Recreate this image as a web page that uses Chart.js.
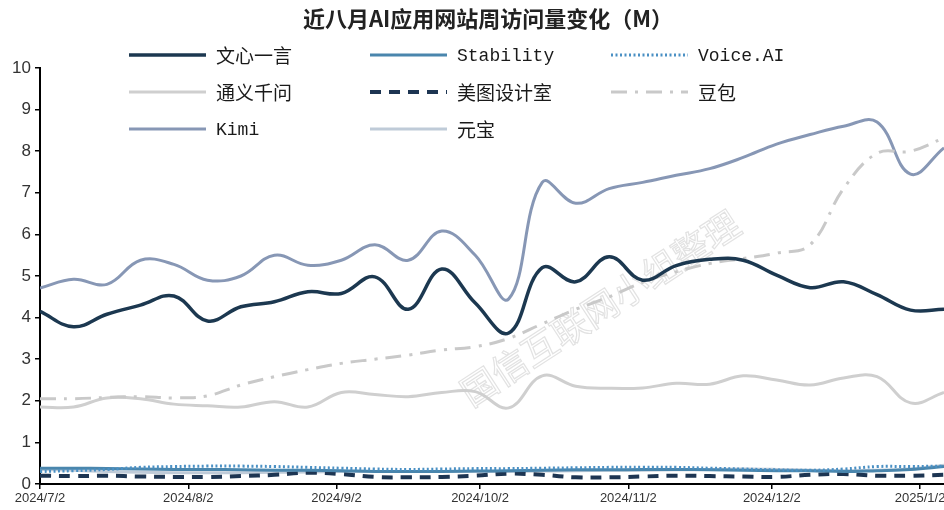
<!DOCTYPE html>
<html>
<head>
<meta charset="utf-8">
<script src="https://cdn.jsdelivr.net/npm/chart.js@4"></script>
<style>
html,body{margin:0;padding:0;background:#fff;}
#wrap{width:944px;height:510px;position:relative;}
</style>
</head>
<body>
<div id="wrap"><canvas id="c" width="944" height="510"></canvas></div>
<script>
// ---- data ----
const chartTitle = '近八月AI应用网站周访问量变化（M）';
const weekDates = ['2024/7/2','2024/7/9','2024/7/16','2024/7/23','2024/7/30','2024/8/6','2024/8/13','2024/8/20','2024/8/27','2024/9/3','2024/9/10','2024/9/17','2024/9/24','2024/10/1','2024/10/8','2024/10/15','2024/10/22','2024/10/29','2024/11/5','2024/11/12','2024/11/19','2024/11/26','2024/12/3','2024/12/10','2024/12/17','2024/12/24','2024/12/31','2025/1/7'];
const tickLabels = ['2024/7/2','2024/8/2','2024/9/2','2024/10/2','2024/11/2','2024/12/2','2025/1/2'];
const seriesNames = ['文心一言','Stability','Voice.AI','通义千问','美图设计室','豆包','Kimi','元宝'];
const wenxin   = [4.15,3.78,4.08,4.30,4.52,3.92,4.26,4.38,4.62,4.58,4.98,4.20,5.17,4.35,3.63,5.20,4.86,5.46,4.90,5.25,5.40,5.38,5.02,4.72,4.86,4.55,4.18,4.20];
const stability= [0.38,0.38,0.37,0.36,0.35,0.35,0.34,0.33,0.33,0.32,0.30,0.30,0.30,0.31,0.32,0.33,0.34,0.34,0.35,0.35,0.34,0.33,0.32,0.32,0.30,0.32,0.35,0.42];
const voiceai  = [0.30,0.32,0.35,0.40,0.42,0.43,0.43,0.42,0.40,0.38,0.36,0.35,0.36,0.37,0.37,0.38,0.39,0.40,0.40,0.40,0.38,0.36,0.34,0.33,0.36,0.42,0.42,0.43];
const tongyi   = [1.85,1.85,2.07,2.05,1.92,1.88,1.85,1.98,1.85,2.20,2.15,2.10,2.20,2.22,1.83,2.60,2.35,2.30,2.31,2.42,2.40,2.60,2.50,2.38,2.55,2.58,1.95,2.20];
const meitu    = [0.20,0.19,0.20,0.18,0.17,0.17,0.19,0.22,0.27,0.24,0.17,0.16,0.17,0.20,0.25,0.22,0.16,0.16,0.18,0.20,0.19,0.18,0.17,0.22,0.24,0.20,0.20,0.22];
const doubao   = [2.05,2.05,2.08,2.10,2.07,2.12,2.38,2.58,2.75,2.90,3.00,3.10,3.22,3.30,3.50,3.85,4.20,4.50,4.85,5.10,5.30,5.42,5.55,5.75,7.10,7.95,8.00,8.32];
const kimi     = [4.71,4.92,4.80,5.38,5.28,4.90,5.00,5.50,5.26,5.38,5.75,5.38,6.08,5.50,4.45,7.25,6.75,7.10,7.25,7.42,7.58,7.85,8.17,8.40,8.60,8.70,7.45,8.08];
const yuanbao  = [0.35,0.33,0.30,0.28,0.27,0.27,0.27,0.28,0.29,0.30,0.30,0.30,0.30,0.30,0.30,0.31,0.32,0.33,0.33,0.34,0.35,0.36,0.35,0.33,0.32,0.33,0.36,0.45];
const watermark = '国信互联网小组整理';

// ---- helpers ----
function dayNum(s){const p=s.split('/').map(Number);return Date.UTC(p[0],p[1]-1,p[2])/86400000;}
const day0 = dayNum(weekDates[0]);
const xs = weekDates.map(d=>dayNum(d)-day0);
const tickPos = tickLabels.map(d=>dayNum(d)-day0);
const pts = arr => arr.map((v,i)=>({x:xs[i],y:v}));

const styles = [
  {data:wenxin,   color:'#1c3850', width:3.5, dash:[]},
  {data:stability,color:'#4a86ad', width:3,   dash:[]},
  {data:voiceai,  color:'#4a90c4', width:3,   dash:[2,2.5]},
  {data:tongyi,   color:'#cfcfcf', width:3,   dash:[]},
  {data:meitu,    color:'#1d3552', width:4,   dash:[11,8]},
  {data:doubao,   color:'#c9c9c9', width:3,   dash:[16,8,3,8]},
  {data:kimi,     color:'#8797b5', width:3,   dash:[]},
  {data:yuanbao,  color:'#bfcbd8', width:3,   dash:[]}
];
const drawOrder = [1,5,4,3,6,2,7,8];

const datasets = styles.map((s,i)=>({
  label: seriesNames[i],
  data: pts(s.data),
  borderColor: s.color,
  backgroundColor: s.color,
  borderWidth: s.width,
  borderDash: s.dash,
  pointRadius: 0,
  tension: 0.4,
  fill: false,
  order: drawOrder[i]
}));

const legendPlugin = {
  id:'customLegend',
  afterDraw(chart){
    const ctx = chart.ctx;
    ctx.save();
    // title
    ctx.fillStyle = '#222';
    ctx.font = 'bold 22px "Noto Sans CJK SC", sans-serif';
    ctx.textAlign = 'center';
    ctx.textBaseline = 'middle';
    ctx.fillText(chartTitle, 488, 19);
    // legend
    const colX = [129, 370, 611];
    const rowY = [55, 92, 129];
    styles.forEach((s,i)=>{
      const col = i % 3, row = Math.floor(i/3);
      const x = colX[col], y = rowY[row];
      ctx.beginPath();
      ctx.setLineDash(s.dash);
      ctx.strokeStyle = s.color;
      ctx.lineWidth = s.width;
      ctx.moveTo(x, y); ctx.lineTo(x+77, y);
      ctx.stroke();
      ctx.setLineDash([]);
      const name = seriesNames[i];
      const isLatin = /^[\x00-\x7f]+$/.test(name);
      ctx.font = isLatin ? '18px "Liberation Mono", monospace' : '19px "Noto Sans CJK SC", sans-serif';
      ctx.fillStyle = '#1a1a1a';
      ctx.textAlign = 'left';
      ctx.textBaseline = 'middle';
      ctx.fillText(name, x+87, y+1);
    });
    ctx.restore();
  },
  beforeDatasetsDraw(chart){
    const ctx = chart.ctx;
    ctx.save();
    ctx.translate(600, 308);
    ctx.rotate(-33*Math.PI/180);
    ctx.font = '36px "Noto Sans CJK SC", sans-serif';
    ctx.textAlign = 'center';
    ctx.textBaseline = 'middle';
    ctx.strokeStyle = 'rgba(190,190,190,0.45)';
    ctx.lineWidth = 1.2;
    ctx.strokeText(watermark, 0, 0);
    ctx.restore();
  }
};

new Chart(document.getElementById('c'), {
  type:'line',
  data:{datasets},
  options:{
    responsive:false,
    devicePixelRatio:1,
    animation:false,
    layout:{padding:{top:68,left:0,right:0,bottom:0}},
    plugins:{legend:{display:false}, title:{display:false}, tooltip:{enabled:false}},
    scales:{
      x:{
        type:'linear',
        min:0, max:189,
        afterBuildTicks(scale){ scale.ticks = tickPos.map(v=>({value:v})); },
        afterFit(scale){ scale.height = 26; scale.paddingRight = 0; scale.paddingLeft = 0; },
        ticks:{
          callback:(v)=>{const i=tickPos.indexOf(v);return i>=0?tickLabels[i]:'';},
          color:'#333',
          font:{family:'"Liberation Sans Narrow", "Liberation Sans", sans-serif', size:13},
          padding:2,
          maxRotation:0, autoSkip:false
        },
        grid:{display:true, drawOnChartArea:false, drawTicks:true, tickLength:5, color:'#000', lineWidth:1.5},
        border:{display:true, color:'#000', width:2}
      },
      y:{
        min:0, max:10,
        afterFit(scale){ scale.width = 40; },
        ticks:{
          stepSize:1,
          color:'#333',
          font:{family:'"Liberation Sans", sans-serif', size:17},
          padding:4
        },
        grid:{display:true, drawOnChartArea:false, drawTicks:true, tickLength:5, color:'#000', lineWidth:1.5},
        border:{display:true, color:'#000', width:2}
      }
    }
  },
  plugins:[legendPlugin]
});
</script>
</body>
</html>
